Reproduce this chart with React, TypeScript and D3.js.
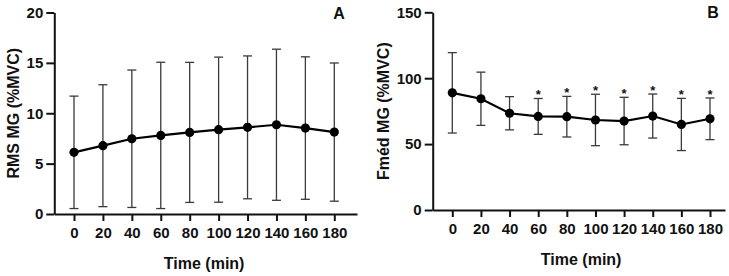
import { useEffect, useRef } from "react";
import * as d3 from "d3";

// Sampling times (min)
const times = [0, 20, 40, 60, 80, 100, 120, 140, 160, 180];

// RMS MG (%MVC), mean and SD
const rmsMean = [6.12, 6.78, 7.47, 7.8, 8.1, 8.37, 8.6, 8.86, 8.53, 8.13];
const rmsSd = [5.58, 6.05, 6.82, 7.26, 6.95, 7.2, 7.09, 7.5, 7.07, 6.86];

// Fméd MG (%MVC), mean and SD
const fmedMean = [88.9, 84.4, 73.4, 71.0, 70.8, 68.3, 67.5, 71.3, 64.9, 69.2];
const fmedSd = [30.5, 20.2, 12.6, 13.6, 15.4, 19.5, 18.0, 16.7, 19.8, 15.8];
const fmedSignificant = [false, false, false, true, true, true, true, true, true, true];

const rmsTicks = [0, 5, 10, 15, 20];
const fmedTicks = [0, 50, 100, 150];

const FONT = "'Liberation Sans', Arial, sans-serif";

type PanelProps = {
  letter: string;
  yTitle: string;
  mean: number[];
  sd: number[];
  stars?: boolean[];
  yTicks: number[];
  yMax: number;
  frame: { left: number; right: number; top: number; bottom: number; x0: number; x180: number };
  letterPos: [number, number];
  yTitleX: number;
};

function Panel(props: PanelProps) {
  const ref = useRef<SVGGElement>(null);

  useEffect(() => {
    const g = d3.select(ref.current);
    g.selectAll("*").remove();
    const { frame } = props;

    // linear time scale; the axis line runs a little past 0 and 180
    const per = (frame.x180 - frame.x0) / 180;
    const x = d3
      .scaleLinear()
      .domain([(frame.left - frame.x0) / per, (frame.right - frame.x0) / per])
      .range([frame.left, frame.right]);

    const y = d3.scaleLinear().domain([0, props.yMax]).range([frame.bottom, frame.top]);

    const xAxis = g
      .append("g")
      .attr("transform", `translate(0,${frame.bottom})`)
      .call(
        d3
          .axisBottom(x)
          .tickValues(times)
          .tickSize(7)
          .tickSizeOuter(0)
          .tickPadding(6.5)
          .tickFormat(d3.format("d"))
      );
    xAxis.select(".domain").attr("stroke", "#111").attr("stroke-width", 2);
    xAxis.selectAll(".tick line").attr("stroke", "#111").attr("stroke-width", 2);
    xAxis
      .selectAll("text")
      .attr("font-family", FONT)
      .attr("font-size", 15)
      .attr("font-weight", 700)
      .attr("fill", "#111");

    const yAxis = g
      .append("g")
      .attr("transform", `translate(${frame.left},0)`)
      .call(d3.axisLeft(y).tickValues(props.yTicks).tickSize(8).tickSizeOuter(0).tickPadding(3));
    yAxis.select(".domain").attr("stroke", "#111").attr("stroke-width", 2);
    yAxis.selectAll(".tick line").attr("stroke", "#111").attr("stroke-width", 2);
    yAxis
      .selectAll("text")
      .attr("font-family", FONT)
      .attr("font-size", 15)
      .attr("font-weight", 700)
      .attr("fill", "#111");

    const data = times.map((t, i) => ({
      t,
      mean: props.mean[i],
      sd: props.sd[i],
      star: props.stars ? props.stars[i] : false,
    }));

    // error bars (mean ± SD)
    const bars = g.append("g").attr("stroke", "#3a3a3a").attr("stroke-width", 1.3);
    data.forEach((d) => {
      const cx = x(d.t);
      const hi = y(d.mean + d.sd);
      const lo = y(d.mean - d.sd);
      bars.append("line").attr("x1", cx).attr("x2", cx).attr("y1", hi).attr("y2", lo);
      bars.append("line").attr("x1", cx - 4.5).attr("x2", cx + 4.5).attr("y1", hi).attr("y2", hi);
      bars.append("line").attr("x1", cx - 4.5).attr("x2", cx + 4.5).attr("y1", lo).attr("y2", lo);
    });

    const line = d3
      .line<{ t: number; mean: number }>()
      .x((d) => x(d.t))
      .y((d) => y(d.mean));

    g.append("path")
      .datum(data)
      .attr("d", line)
      .attr("fill", "none")
      .attr("stroke", "#000")
      .attr("stroke-width", 2.2);

    g.selectAll(".dot")
      .data(data)
      .join("circle")
      .attr("class", "dot")
      .attr("cx", (d) => x(d.t))
      .attr("cy", (d) => y(d.mean))
      .attr("r", 4.6)
      .attr("fill", "#000");

    g.selectAll(".star")
      .data(data.filter((d) => d.star))
      .join("text")
      .attr("class", "star")
      .attr("x", (d) => x(d.t))
      .attr("y", (d) => y(d.mean + d.sd) + 1)
      .attr("text-anchor", "middle")
      .attr("font-family", FONT)
      .attr("font-size", 13)
      .attr("font-weight", 700)
      .attr("fill", "#111")
      .text("*");

    g.append("text")
      .attr("x", x(90))
      .attr("y", frame.bottom + 55)
      .attr("text-anchor", "middle")
      .attr("font-family", FONT)
      .attr("font-size", 16)
      .attr("font-weight", 700)
      .attr("fill", "#111")
      .text("Time (min)");

    g.append("text")
      .attr("transform", `translate(${props.yTitleX},${(frame.top + frame.bottom) / 2}) rotate(-90)`)
      .attr("text-anchor", "middle")
      .attr("font-family", FONT)
      .attr("font-size", 16)
      .attr("font-weight", 700)
      .attr("fill", "#111")
      .text(props.yTitle);

    g.append("text")
      .attr("x", props.letterPos[0])
      .attr("y", props.letterPos[1])
      .attr("text-anchor", "middle")
      .attr("font-family", FONT)
      .attr("font-size", 16)
      .attr("font-weight", 700)
      .attr("fill", "#111")
      .text(props.letter);
  }, [props]);

  return <g ref={ref} />;
}

export default function App() {
  return (
    <svg
      width={729}
      height={276}
      style={{ position: "absolute", left: 0, top: 0, background: "#fff" }}
    >
      <Panel
        letter="A"
        yTitle="RMS MG (%MVC)"
        mean={rmsMean}
        sd={rmsSd}
        yTicks={rmsTicks}
        yMax={20}
        frame={{ left: 54.3, right: 357, top: 12.5, bottom: 214, x0: 74, x180: 334.3 }}
        letterPos={[339, 18.8]}
        yTitleX={19}
      />
      <Panel
        letter="B"
        yTitle="Fméd MG (%MVC)"
        mean={fmedMean}
        sd={fmedSd}
        stars={fmedSignificant}
        yTicks={fmedTicks}
        yMax={150}
        frame={{ left: 432.7, right: 725, top: 12.3, bottom: 210, x0: 452.3, x180: 710 }}
        letterPos={[713, 17.8]}
        yTitleX={389}
      />
    </svg>
  );
}
